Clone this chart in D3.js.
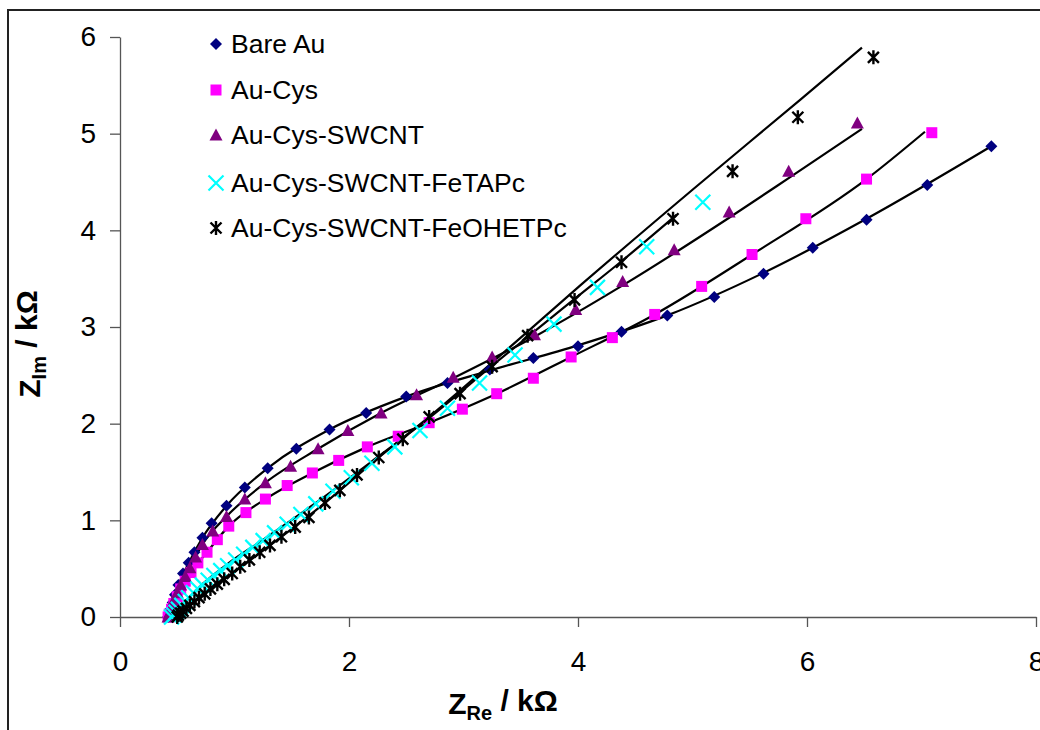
<!DOCTYPE html>
<html>
<head>
<meta charset="utf-8">
<script src="https://cdn.jsdelivr.net/npm/d3@7"></script>
<style>
  body { margin: 0; background: #fff; }
  svg { display: block; font-family: "Liberation Sans", Arial, sans-serif; }
</style>
</head>
<body>
<div id="chart"></div>
<script>
// series names, legend order
const seriesNames = ["Bare Au", "Au-Cys", "Au-Cys-SWCNT", "Au-Cys-SWCNT-FeTAPc", "Au-Cys-SWCNT-FeOHETPc"];

// measured points [Z'(kΩ), -Z''(kΩ)]
const bareAu = [[0.42,0],[0.43,0.03],[0.44,0.08],[0.46,0.15],[0.48,0.23],[0.51,0.33],[0.55,0.45],[0.60,0.56],[0.65,0.67],[0.72,0.82],[0.80,0.97],[0.93,1.15],[1.09,1.34],[1.29,1.54],[1.54,1.74],[1.83,1.94],[2.15,2.11],[2.50,2.28],[2.86,2.42],[3.23,2.56],[3.61,2.68],[4.00,2.80],[4.38,2.95],[4.78,3.12],[5.19,3.31],[5.62,3.55],[6.05,3.82],[6.52,4.11],[7.05,4.47],[7.61,4.87]];
const auCys = [[0.42,0],[0.43,0.03],[0.45,0.08],[0.47,0.14],[0.50,0.21],[0.53,0.29],[0.57,0.37],[0.62,0.46],[0.68,0.56],[0.76,0.67],[0.85,0.80],[0.95,0.94],[1.10,1.08],[1.27,1.22],[1.46,1.36],[1.68,1.49],[1.91,1.62],[2.16,1.76],[2.43,1.87],[2.70,2.01],[2.99,2.15],[3.29,2.31],[3.61,2.47],[3.94,2.69],[4.30,2.89],[4.67,3.13],[5.08,3.42],[5.52,3.75],[5.99,4.12],[6.52,4.53],[7.09,5.01]];
const auCysSwcnt = [[0.42,0],[0.43,0.04],[0.45,0.10],[0.47,0.17],[0.50,0.25],[0.53,0.33],[0.57,0.42],[0.61,0.51],[0.66,0.62],[0.72,0.75],[0.81,0.89],[0.93,1.04],[1.09,1.22],[1.27,1.39],[1.49,1.56],[1.73,1.74],[1.99,1.93],[2.28,2.11],[2.59,2.30],[2.91,2.48],[3.25,2.69],[3.62,2.92],[3.98,3.18],[4.39,3.47],[4.84,3.80],[5.32,4.19],[5.84,4.61],[6.44,5.11]];
const feTAPc = [[0.45,0],[0.47,0.02],[0.49,0.05],[0.51,0.08],[0.54,0.12],[0.57,0.16],[0.60,0.20],[0.64,0.25],[0.68,0.29],[0.72,0.33],[0.77,0.38],[0.82,0.43],[0.88,0.48],[0.94,0.53],[1.01,0.59],[1.08,0.65],[1.16,0.72],[1.25,0.79],[1.35,0.87],[1.46,0.96],[1.58,1.06],[1.71,1.17],[1.86,1.30],[2.02,1.44],[2.20,1.59],[2.40,1.76],[2.62,1.93],[2.86,2.16],[3.14,2.42],[3.45,2.71],[3.79,3.03],[4.17,3.41],[4.60,3.83],[5.09,4.29]];
const feOHETPc = [[0.50,0],[0.51,0.02],[0.53,0.04],[0.55,0.06],[0.58,0.09],[0.61,0.12],[0.65,0.16],[0.69,0.20],[0.74,0.24],[0.79,0.29],[0.85,0.34],[0.91,0.39],[0.98,0.45],[1.05,0.52],[1.13,0.59],[1.22,0.67],[1.31,0.74],[1.41,0.83],[1.53,0.93],[1.65,1.03],[1.79,1.18],[1.92,1.31],[2.07,1.47],[2.26,1.65],[2.47,1.84],[2.70,2.07],[2.97,2.31],[3.25,2.59],[3.56,2.91],[3.97,3.28],[4.38,3.67],[4.83,4.12],[5.35,4.61],[5.92,5.17],[6.58,5.79]];

// fitted curves (black lines)
const fitBareAu = [[0.42,0],[0.46,0.15],[0.51,0.33],[0.60,0.56],[0.72,0.82],[0.93,1.15],[1.29,1.54],[1.83,1.94],[2.50,2.28],[3.23,2.55],[4.00,2.81],[4.78,3.12],[5.62,3.56],[6.52,4.12],[7.61,4.87]];
const fitAuCys = [[0.42,0],[0.47,0.14],[0.53,0.29],[0.62,0.46],[0.76,0.67],[0.95,0.94],[1.27,1.22],[1.68,1.49],[2.16,1.76],[2.70,2.01],[3.29,2.31],[3.94,2.69],[4.67,3.13],[5.52,3.75],[6.52,4.53],[7.03,5.02]];
const fitSwcnt = [[0.42,0],[0.47,0.17],[0.53,0.33],[0.61,0.51],[0.72,0.75],[0.93,1.04],[1.27,1.39],[1.73,1.74],[2.28,2.11],[2.91,2.47],[3.62,2.90],[4.39,3.43],[5.32,4.13],[5.84,4.54],[6.48,5.05]];
const fitTAPc = [[0.46,0],[0.51,0.08],[0.60,0.20],[0.72,0.34],[0.94,0.55],[1.25,0.80],[1.71,1.18],[2.20,1.61],[2.70,2.06],[3.25,2.60],[3.97,3.29],[4.38,3.68],[4.86,4.16]];
const fitOHETPc = [[0.49,0],[0.55,0.06],[0.65,0.16],[0.79,0.29],[0.98,0.45],[1.31,0.74],[1.79,1.18],[2.26,1.65],[2.70,2.07],[3.23,2.61],[4.02,3.43],[5.00,4.42],[5.94,5.35],[6.48,5.89]];

const xTicks = [0, 2, 4, 6, 8];
const yTicks = [0, 1, 2, 3, 4, 5, 6];

const W = 1040, H = 730;
const svg = d3.select("#chart").append("svg")
    .attr("width", W)
    .attr("height", H);

// outer chart frame (cut at right and bottom like the original)
svg.append("rect")
    .attr("x", 8).attr("y", 10)
    .attr("width", 1100).attr("height", 800)
    .attr("fill", "none")
    .attr("stroke", "#222")
    .attr("stroke-width", 2);

const xScale = d3.scaleLinear().domain([0, 8]).range([120, 1036]);
const yScale = d3.scaleLinear().domain([0, 6]).range([617, 37]);

// axes
const xAxisG = svg.append("g")
    .attr("transform", "translate(0," + yScale(0) + ")")
    .call(d3.axisBottom(xScale).tickValues(xTicks).tickFormat(d3.format("d"))
        .tickSizeInner(10).tickSizeOuter(0).tickPadding(24));
const yAxisG = svg.append("g")
    .attr("transform", "translate(" + xScale(0) + ",0)")
    .call(d3.axisLeft(yScale).tickValues(yTicks).tickFormat(d3.format("d"))
        .tickSizeInner(10).tickSizeOuter(0).tickPadding(14));

[xAxisG, yAxisG].forEach(g => {
    g.select(".domain").attr("stroke", "#555").attr("stroke-width", 1.3);
    g.selectAll(".tick line").attr("stroke", "#555").attr("stroke-width", 1.3);
    g.selectAll(".tick text")
        .attr("fill", "#000")
        .style("font-size", "28px")
        .style("font-family", "'Liberation Sans', Arial, sans-serif");
});

// fit lines
const line = d3.line()
    .x(d => xScale(d[0]))
    .y(d => yScale(d[1]))
    .curve(d3.curveMonotoneX);

const fits = [fitBareAu, fitAuCys, fitSwcnt, fitTAPc, fitOHETPc];
svg.append("g").selectAll("path")
    .data(fits)
    .join("path")
    .attr("d", line)
    .attr("fill", "none")
    .attr("stroke", "#000")
    .attr("stroke-width", 2.2);

// marker drawing
function drawMarker(g, type) {
    if (type === "diamond") {
        g.append("path").attr("d", "M0,-6L6,0L0,6L-6,0Z").attr("fill", "#000080");
    } else if (type === "square") {
        g.append("rect").attr("x", -5.5).attr("y", -5.5).attr("width", 11).attr("height", 11).attr("fill", "#ff00ff");
    } else if (type === "triangle") {
        g.append("path").attr("d", "M0,-6.5L6.5,5.5L-6.5,5.5Z").attr("fill", "#800080");
    } else if (type === "x") {
        g.append("path").attr("d", "M-7.5,-7.5L7.5,7.5M-7.5,7.5L7.5,-7.5")
            .attr("stroke", "#00ffff").attr("stroke-width", 2.2).attr("fill", "none");
    } else if (type === "star") {
        g.append("path").attr("d", "M-5.5,-5.5L5.5,5.5M-5.5,5.5L5.5,-5.5M0,-7L0,7")
            .attr("stroke", "#000").attr("stroke-width", 2.4).attr("fill", "none");
    }
}

const seriesData = [bareAu, auCys, auCysSwcnt, feTAPc, feOHETPc];
const markerTypes = ["diamond", "square", "triangle", "x", "star"];

seriesData.forEach((data, i) => {
    svg.append("g").selectAll("g")
        .data(data)
        .join("g")
        .attr("transform", d => "translate(" + xScale(d[0]) + "," + yScale(d[1]) + ")")
        .each(function() { drawMarker(d3.select(this), markerTypes[i]); });
});

// legend
const legendY = [44, 90, 135, 183, 228];
const legend = svg.append("g");
seriesNames.forEach((name, i) => {
    const item = legend.append("g").attr("transform", "translate(216," + legendY[i] + ")");
    drawMarker(item, markerTypes[i]);
    item.append("text")
        .attr("x", 15)
        .attr("y", 9)
        .style("font-size", "26.5px")
        .text(name);
});

// axis titles
const xTitle = svg.append("text")
    .attr("x", 503).attr("y", 714)
    .attr("text-anchor", "middle")
    .style("font-size", "30px")
    .style("font-weight", "bold");
xTitle.append("tspan").text("Z");
xTitle.append("tspan").attr("dy", "0.3em").style("font-size", "20px").text("Re");
xTitle.append("tspan").attr("dy", "-0.3em").text(" / kΩ");

const yTitle = svg.append("text")
    .attr("transform", "translate(40,344) rotate(-90)")
    .attr("text-anchor", "middle")
    .style("font-size", "30px")
    .style("font-weight", "bold");
yTitle.append("tspan").text("Z");
yTitle.append("tspan").attr("dy", "0.3em").style("font-size", "20px").text("Im");
yTitle.append("tspan").attr("dy", "-0.3em").text(" / kΩ");
</script>
</body>
</html>
